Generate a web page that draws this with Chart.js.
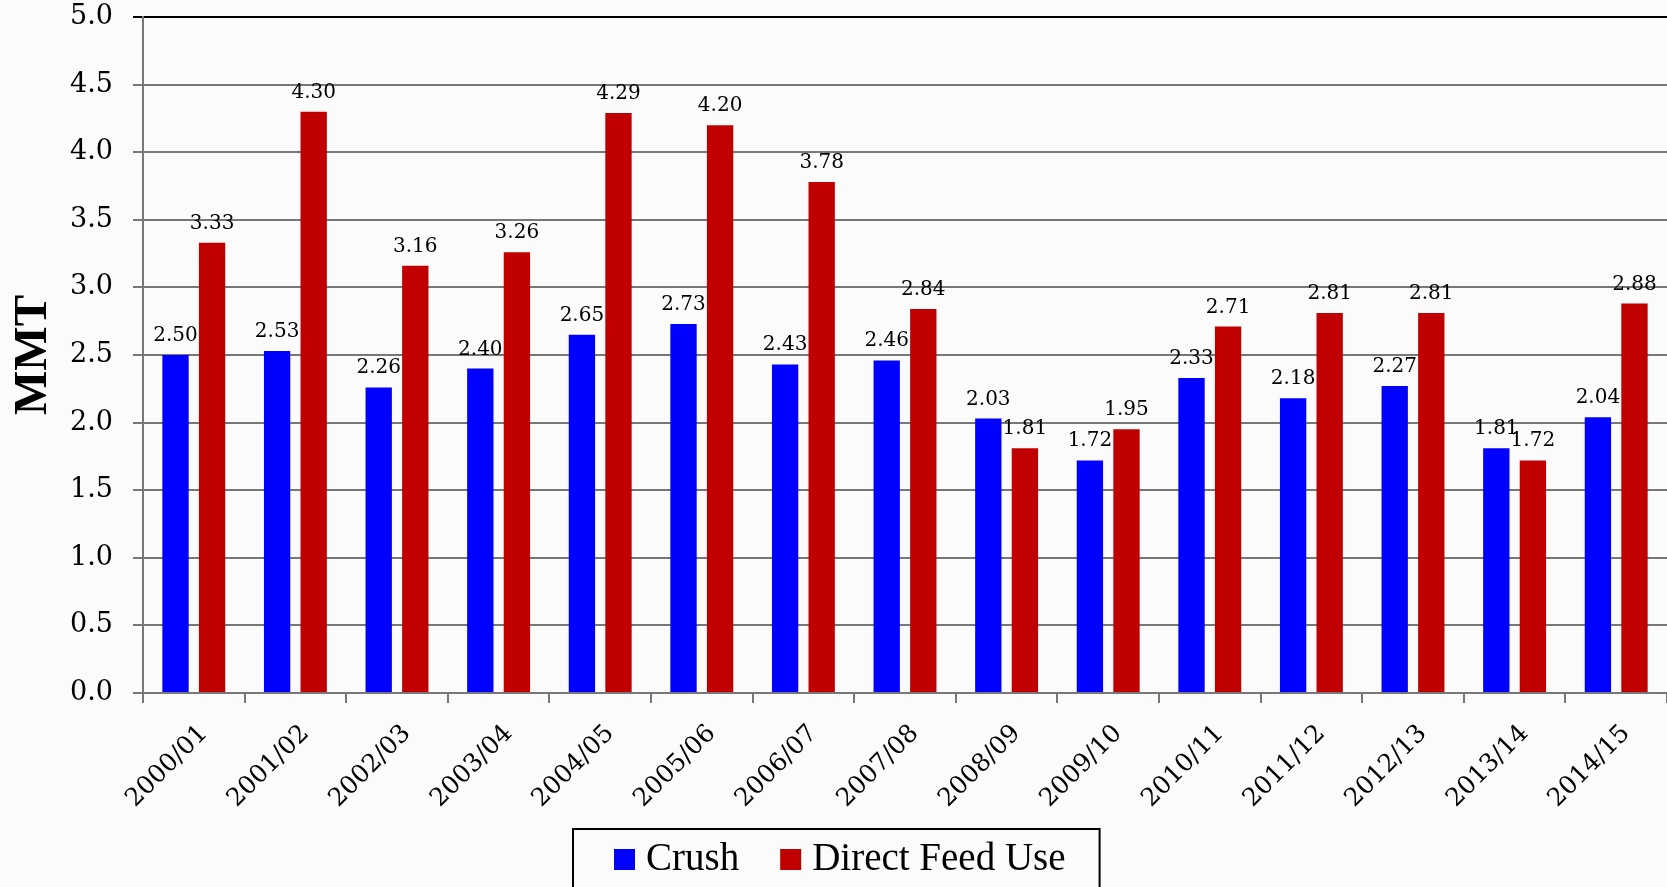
<!DOCTYPE html>
<html>
<head>
<meta charset="utf-8">
<script src="https://cdn.jsdelivr.net/npm/chart.js@4.4.1/dist/chart.umd.min.js"></script>
<style>
  html, body { margin: 0; padding: 0; background: #fbfbfb; }
  #wrap { width: 1667px; height: 887px; position: relative; }
</style>
</head>
<body>
<div id="wrap"><canvas id="c" width="1667" height="887"></canvas></div>
<script>
const categories = ["2000/01","2001/02","2002/03","2003/04","2004/05","2005/06","2006/07","2007/08","2008/09","2009/10","2010/11","2011/12","2012/13","2013/14","2014/15"];
const crush = [2.50, 2.53, 2.26, 2.40, 2.65, 2.73, 2.43, 2.46, 2.03, 1.72, 2.33, 2.18, 2.27, 1.81, 2.04];
const directFeed = [3.33, 4.30, 3.16, 3.26, 4.29, 4.20, 3.78, 2.84, 1.81, 1.95, 2.71, 2.81, 2.81, 1.72, 2.88];
const yTicks = [0, 0.5, 1.0, 1.5, 2.0, 2.5, 3.0, 3.5, 4.0, 4.5, 5.0];
const seriesNames = ["Crush", "Direct Feed Use"];
const yTitle = "MMT";

const valueLabels = {
  id: 'valueLabels',
  afterDatasetsDraw(chart) {
    const ctx = chart.ctx;
    ctx.save();
    ctx.font = '20px "DejaVu Serif"';
    ctx.fillStyle = '#000';
    ctx.textAlign = 'center';
    ctx.textBaseline = 'alphabetic';
    chart.data.datasets.forEach((ds, i) => {
      const meta = chart.getDatasetMeta(i);
      meta.data.forEach((bar, j) => {
        ctx.fillText(ds.data[j].toFixed(2), bar.x, bar.y - 14);
      });
    });
    ctx.restore();
  }
};

// custom bordered legend drawn below the x axis
const boxedLegend = {
  id: 'boxedLegend',
  afterDraw(chart) {
    const ctx = chart.ctx;
    ctx.save();
    ctx.font = '39px "Liberation Serif"';
    ctx.textBaseline = 'alphabetic';
    ctx.textAlign = 'left';
    const startX = 614, sq = 21, sqTop = 849, baseY = 870, gapText = 11, gapItem = 41;
    let x = startX;
    chart.data.datasets.forEach((ds, i) => {
      ctx.fillStyle = ds.backgroundColor;
      ctx.fillRect(x, sqTop, sq, sq);
      x += sq + gapText;
      ctx.fillStyle = '#000';
      ctx.fillText(ds.label, x, baseY);
      x += ctx.measureText(ds.label).width;
      if (i < chart.data.datasets.length - 1) x += gapItem;
    });
    const left = startX - 41, right = x + 34, top = 829;
    ctx.strokeStyle = '#000';
    ctx.lineWidth = 2;
    ctx.strokeRect(left, top, right - left, 120);
    ctx.restore();
  }
};

new Chart(document.getElementById('c'), {
  type: 'bar',
  data: {
    labels: categories,
    datasets: [
      { label: seriesNames[0], data: crush, backgroundColor: '#0000ff', borderWidth: 0,
        categoryPercentage: 0.72, barPercentage: 0.72 },
      { label: seriesNames[1], data: directFeed, backgroundColor: '#c00000', borderWidth: 0,
        categoryPercentage: 0.72, barPercentage: 0.72 }
    ]
  },
  options: {
    responsive: false,
    animation: false,
    devicePixelRatio: 1,
    layout: { padding: { top: 17, right: 0, left: 0, bottom: 56 } },
    plugins: {
      legend: { display: false },
      tooltip: { enabled: false }
    },
    scales: {
      x: {
        grid: { display: true, drawOnChartArea: false, offset: true, tickLength: 10, color: '#777', lineWidth: 2 },
        border: { display: true, color: '#777', width: 2 },
        ticks: {
          font: { family: '"DejaVu Serif"', size: 25 },
          color: '#000',
          minRotation: 45, maxRotation: 45,
          padding: 16,
          labelOffset: 10
        },
        afterFit(scale) { scale.height = 138; scale.paddingLeft = 0; scale.paddingRight = 0; }
      },
      y: {
        min: 0, max: 5,
        afterBuildTicks(scale) { scale.ticks = yTicks.map(v => ({ value: v })); },
        grid: {
          color: (c) => (c.tick && c.tick.value === 5 ? '#000' : '#777'),
          lineWidth: 2,
          tickLength: 10
        },
        border: { display: true, color: '#777', width: 2 },
        ticks: {
          font: { family: '"DejaVu Serif"', size: 27 },
          color: '#000',
          padding: 20,
          callback: (v) => Number(v).toFixed(1)
        },
        title: {
          display: true,
          text: yTitle,
          font: { family: '"Liberation Serif"', size: 47, weight: 'bold' },
          color: '#000',
          padding: { top: 6, bottom: 0 }
        },
        afterFit(scale) { scale.width = 143; scale.paddingTop = 0; scale.paddingBottom = 0; }
      }
    }
  },
  plugins: [valueLabels, boxedLegend]
});
</script>
</body>
</html>
